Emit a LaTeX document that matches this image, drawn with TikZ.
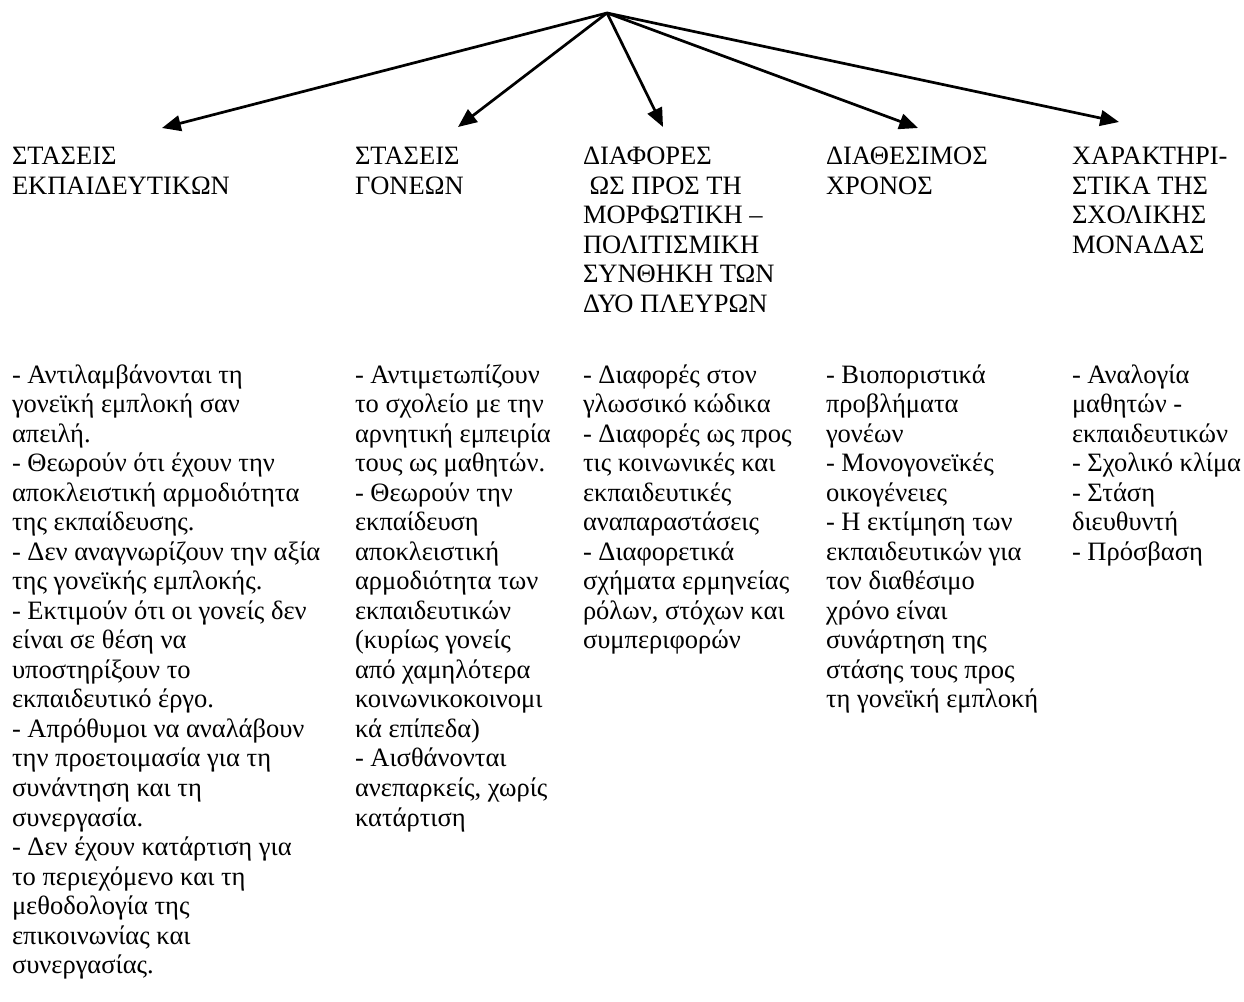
\documentclass[tikz,border=0pt]{standalone}
\usepackage{fontspec}
\setmainfont{Liberation Serif}
\usepackage{tikz}
\usetikzlibrary{arrows.meta, positioning, calc}

\begin{document}
\begin{tikzpicture}[x=0.479pt, y=-0.479pt,
  head/.style={anchor=north west, inner sep=0pt, outer sep=0pt, align=left,
    font=\fontsize{12.7}{14.14}\selectfont, execute at begin node=\strut},
  body/.style={head},
  branch/.style={-{Triangle[length=9pt,width=7.5pt]}, line width=1.3pt}]
\useasboundingbox (0,0) rectangle (1244,1001);

% Arrows from the top
\coordinate (top) at (607,13);
\coordinate (t1) at (162,128);
\coordinate (t2) at (458,127);
\coordinate (t3) at (663,127);
\coordinate (t4) at (918,128);
\coordinate (t5) at (1119,122);
\foreach \t in {t1,t2,t3,t4,t5}
  \draw[branch] (top) -- (\t);

% Headings
\node[head] (hTeach) at (12,147) {ΣΤΑΣΕΙΣ\\ΕΚΠΑΙΔΕΥΤΙΚΩΝ};
\node[head] (hPar) at (355,147) {ΣΤΑΣΕΙΣ\\ΓΟΝΕΩΝ};
\node[head] (hDiff) at (583,147) {ΔΙΑΦΟΡΕΣ\\\ ΩΣ ΠΡΟΣ ΤΗ\\ΜΟΡΦΩΤΙΚΗ –\\ΠΟΛΙΤΙΣΜΙΚΗ\\ΣΥΝΘΗΚΗ ΤΩΝ\\ΔΥΟ ΠΛΕΥΡΩΝ};
\node[head] (hTime) at (826,147) {ΔΙΑΘΕΣΙΜΟΣ\\ΧΡΟΝΟΣ};
\node[head] (hSchool) at (1072,147) {ΧΑΡΑΚΤΗΡΙ-\\ΣΤΙΚΑ ΤΗΣ\\ΣΧΟΛΙΚΗΣ\\ΜΟΝΑΔΑΣ};

% Lists
\node[body] (bTeach) at (12,364.5) {- Αντιλαμβάνονται τη\\γονεϊκή εμπλοκή σαν\\απειλή.\\- Θεωρούν ότι έχουν την\\αποκλειστική αρμοδιότητα\\της εκπαίδευσης.\\- Δεν αναγνωρίζουν την αξία\\της γονεϊκής εμπλοκής.\\- Εκτιμούν ότι οι γονείς δεν\\είναι σε θέση να\\υποστηρίξουν το\\εκπαιδευτικό έργο.\\- Απρόθυμοι να αναλάβουν\\την προετοιμασία για τη\\συνάντηση και τη\\συνεργασία.\\- Δεν έχουν κατάρτιση για\\το περιεχόμενο και τη\\μεθοδολογία της\\επικοινωνίας και\\συνεργασίας.};
\node[body] (bPar) at (355,364.5) {- Αντιμετωπίζουν\\το σχολείο με την\\αρνητική εμπειρία\\τους ως μαθητών.\\- Θεωρούν την\\εκπαίδευση\\αποκλειστική\\αρμοδιότητα των\\εκπαιδευτικών\\(κυρίως γονείς\\από χαμηλότερα\\κοινωνικοκοινομι\\κά επίπεδα)\\- Αισθάνονται\\ανεπαρκείς, χωρίς\\κατάρτιση};
\node[body] (bDiff) at (583,364.5) {- Διαφορές στον\\γλωσσικό κώδικα\\- Διαφορές ως προς\\τις κοινωνικές και\\εκπαιδευτικές\\αναπαραστάσεις\\- Διαφορετικά\\σχήματα ερμηνείας\\ρόλων, στόχων και\\συμπεριφορών};
\node[body] (bTime) at (826,364.5) {- Βιοποριστικά\\προβλήματα\\γονέων\\- Μονογονεϊκές\\οικογένειες\\- Η εκτίμηση των\\εκπαιδευτικών για\\τον διαθέσιμο\\χρόνο είναι\\συνάρτηση της\\στάσης τους προς\\τη γονεϊκή εμπλοκή};
\node[body] (bSchool) at (1072,364.5) {- Αναλογία\\μαθητών -\\εκπαιδευτικών\\- Σχολικό κλίμα\\- Στάση\\διευθυντή\\- Πρόσβαση};
\end{tikzpicture}
\end{document}
